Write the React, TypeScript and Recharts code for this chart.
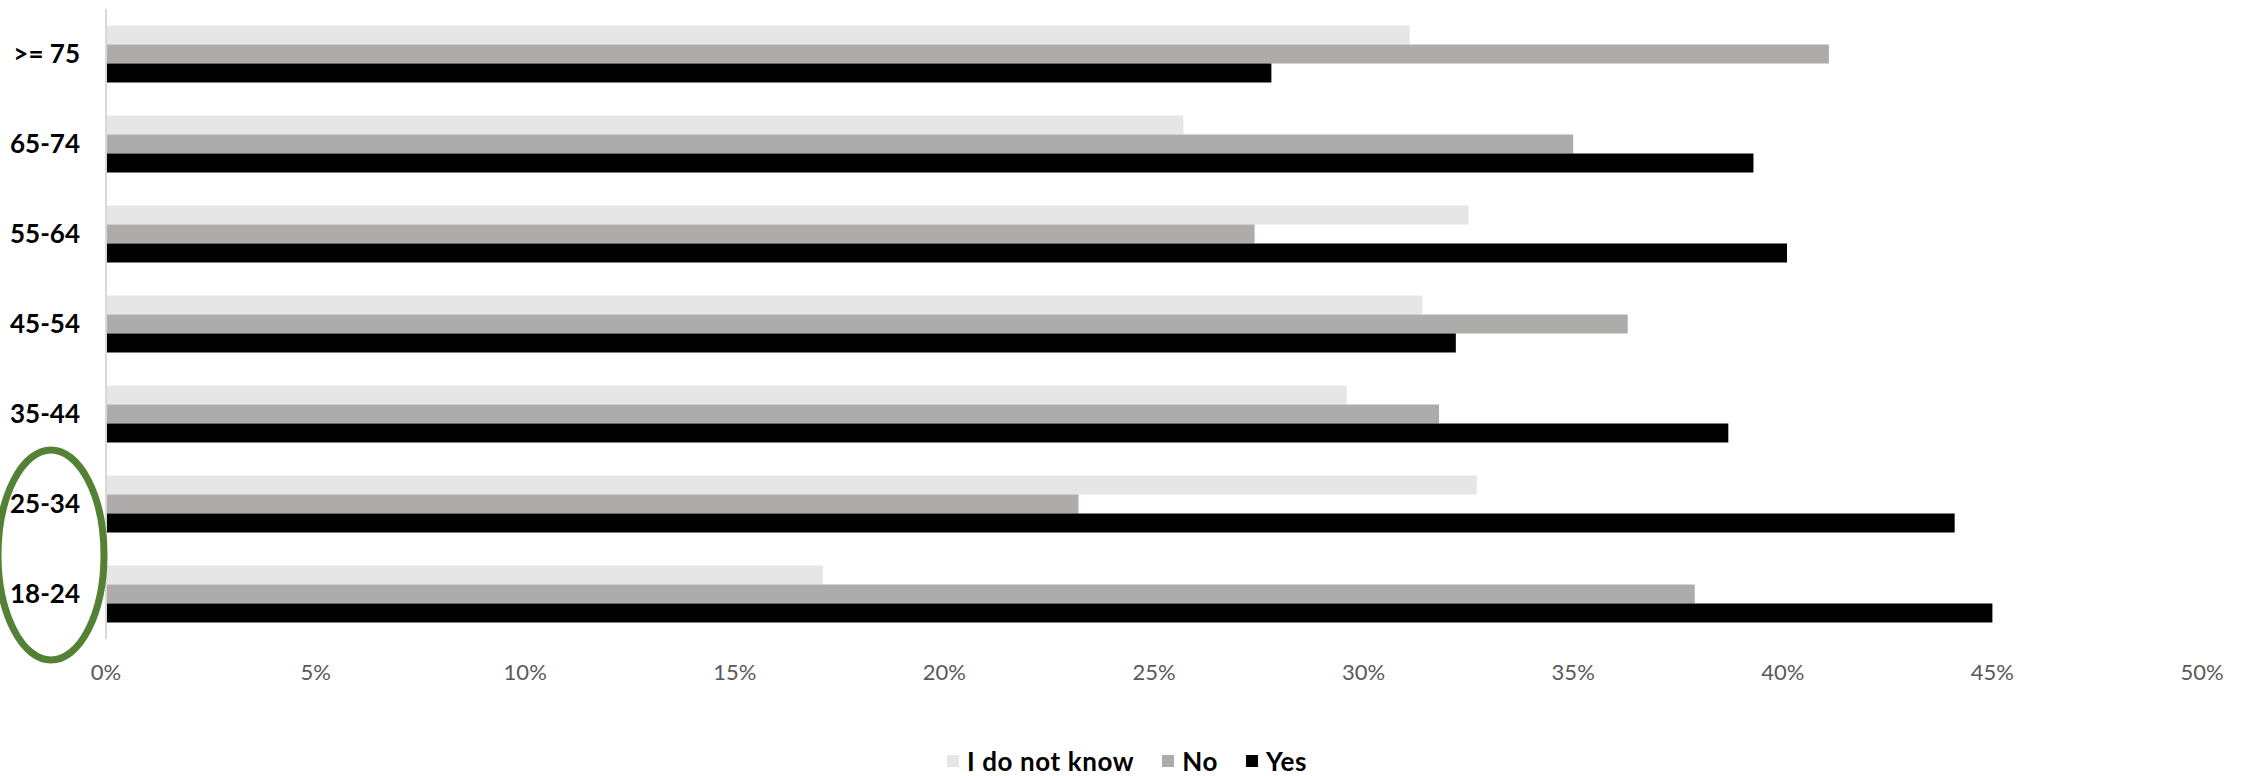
import { Bar, BarChart, Legend, XAxis, YAxis } from "recharts"

const ageGroups = [">= 75", "65-74", "55-64", "45-54", "35-44", "25-34", "18-24"]
const dontKnow = [31.1, 25.7, 32.5, 31.4, 29.6, 32.7, 17.1]
const no = [41.1, 35.0, 27.4, 36.3, 31.8, 23.2, 37.9]
const yes = [27.8, 39.3, 40.1, 32.2, 38.7, 44.1, 45.0]
const xTicks = [0, 5, 10, 15, 20, 25, 30, 35, 40, 45, 50]

const data = ageGroups.map((age, i) => ({
  age,
  "I do not know": dontKnow[i],
  No: no[i],
  Yes: yes[i],
}))

const FONT = "Lato, 'Open Sans', sans-serif"

function LegendContent(props: any) {
  const { payload = [] } = props
  return (
    <div
      style={{
        display: "flex",
        justifyContent: "center",
        alignItems: "center",
        height: 26,
        paddingLeft: 30,
        fontFamily: FONT,
        fontWeight: 700,
        fontSize: 26,
        lineHeight: "26px",
        letterSpacing: 0.6,
        color: "#000",
      }}
    >
      {payload.map((entry: any) => (
        <div key={entry.value} style={{ display: "flex", alignItems: "center", marginRight: 28 }}>
          <span style={{ width: 12, height: 12, background: entry.color, marginRight: 8, display: "inline-block" }} />
          <span>{entry.value}</span>
        </div>
      ))}
    </div>
  )
}

export default function App() {
  return (
    <div style={{ position: "absolute", left: 0, top: 0, width: 2252, height: 776, background: "#fff" }}>
      <BarChart
        width={2252}
        height={776}
        data={data}
        layout="vertical"
        margin={{ top: 9, right: 50, left: 0, bottom: 2 }}
        barCategoryGap="18.3%"
        barGap={0}
      >
        <XAxis
          type="number"
          domain={[0, 50]}
          ticks={xTicks}
          tickFormatter={(v) => `${v}%`}
          axisLine={false}
          tickLine={false}
          tickMargin={19}
          height={109}
          interval={0}
          tick={{ fill: "#595959", fontSize: 22, fontFamily: FONT }}
        />
        <YAxis
          type="category"
          dataKey="age"
          width={106}
          axisLine={{ stroke: "#d9d9d9", strokeWidth: 2 }}
          tickLine={false}
          tickMargin={20}
          tick={{ fill: "#000", fontSize: 26, fontWeight: 700, fontFamily: FONT }}
        />
        <Legend
          verticalAlign="bottom"
          content={<LegendContent />}
          wrapperStyle={{ left: 0, width: 2252 }}
        />
        <Bar dataKey="I do not know" fill="#e7e6e6" isAnimationActive={false} />
        <Bar dataKey="No" fill="#aeabab" isAnimationActive={false} />
        <Bar dataKey="Yes" fill="#000000" isAnimationActive={false} />
      </BarChart>
      <svg width={2252} height={776} style={{ position: "absolute", left: 0, top: 0, pointerEvents: "none" }}>
        <ellipse cx={51} cy={555} rx={53} ry={105} fill="none" stroke="#548235" strokeWidth={7} />
      </svg>
    </div>
  )
}
